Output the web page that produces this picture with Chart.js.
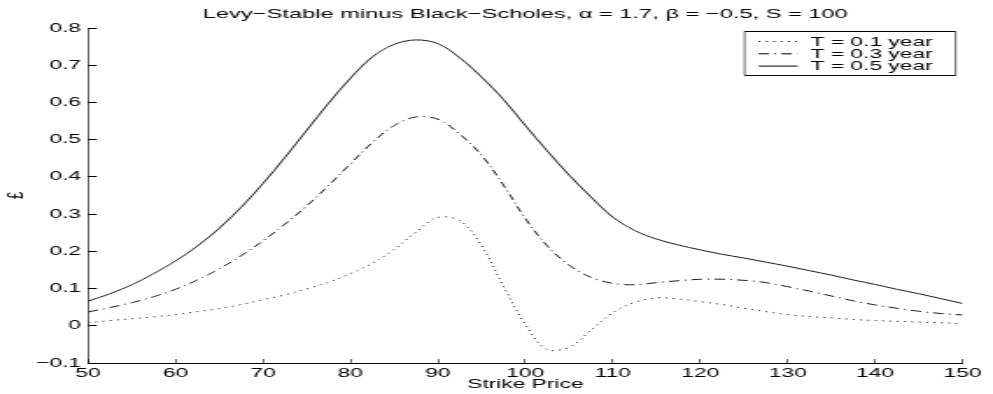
<!DOCTYPE html>
<html>
<head>
<meta charset="utf-8">
<script src="https://cdn.jsdelivr.net/npm/chart.js@4.4.1/dist/chart.umd.min.js"></script>
<style>
  html, body { margin: 0; padding: 0; background: #fff; }
</style>
</head>
<body>
<!-- drawn narrow and stretched sideways, like the original export -->
<canvas id="chart" width="567" height="394" style="display:block;width:993px;height:394px"></canvas>
<script>
const chartTitle = 'Levy\u2212Stable minus Black\u2212Scholes, \u03b1 = 1.7, \u03b2 = \u22120.5, S = 100';
const seriesLabels = ['T = 0.1 year', 'T = 0.3 year', 'T = 0.5 year'];

const strikes = [50, 52.5, 55, 57.5, 60, 62.5, 65, 67.5, 70, 72.5, 75, 77.5, 80, 82.5, 85, 87.5, 90, 92.5, 95, 97.5,
    100, 102.5, 105, 107.5, 110, 112.5, 115, 117.5, 120, 122.5, 125, 127.5, 130, 132.5, 135, 137.5, 140, 142.5, 145, 147.5, 150];

const diffT01 = [0.008, 0.014, 0.019, 0.024, 0.030, 0.038, 0.046, 0.057, 0.070, 0.083, 0.099, 0.117, 0.140, 0.168, 0.205, 0.252, 0.291, 0.283, 0.215, 0.106,
    0.004, -0.064, -0.058, -0.012, 0.035, 0.063, 0.075, 0.072, 0.065, 0.057, 0.047, 0.038, 0.030, 0.025, 0.021, 0.017, 0.014, 0.012, 0.010, 0.008, 0.006];

const diffT03 = [0.037, 0.049, 0.062, 0.078, 0.098, 0.123, 0.153, 0.188, 0.228, 0.273, 0.322, 0.377, 0.435, 0.492, 0.538, 0.561, 0.555, 0.515, 0.458, 0.378,
    0.288, 0.215, 0.163, 0.130, 0.114, 0.110, 0.116, 0.121, 0.125, 0.125, 0.122, 0.116, 0.105, 0.093, 0.080, 0.067, 0.056, 0.047, 0.039, 0.033, 0.029];

const diffT05 = [0.066, 0.086, 0.110, 0.140, 0.174, 0.214, 0.262, 0.318, 0.382, 0.452, 0.525, 0.598, 0.665, 0.722, 0.756, 0.768, 0.758, 0.720, 0.668, 0.608,
    0.538, 0.470, 0.405, 0.346, 0.292, 0.256, 0.233, 0.217, 0.204, 0.192, 0.182, 0.171, 0.160, 0.148, 0.136, 0.123, 0.111, 0.098, 0.086, 0.073, 0.060];

const fontFamily = '"Liberation Sans", Arial, Helvetica, sans-serif';
Chart.defaults.font.family = fontFamily;
Chart.defaults.font.size = 13;
Chart.defaults.color = '#000';

function toPoints(values) {
    return strikes.map((k, i) => ({ x: k, y: values[i] }));
}

function formatTick(value) {
    if (Math.abs(value) < 1e-9) return '0';
    return (value < 0 ? '\u2212' : '') + Math.abs(value).toFixed(1);
}

// matlab style legend: boxed, top right, line sample then text
const boxedLegend = {
    id: 'boxedLegend',
    afterDraw(chart) {
        const ctx = chart.ctx;
        const area = chart.chartArea;
        const right = area.right - 4;
        const left = right - 120.5;
        const top = Math.round(area.top + 3) + 0.5;
        const bottom = top + 44;
        ctx.save();
        ctx.fillStyle = '#fff';
        ctx.fillRect(left, top, right - left, bottom - top);
        ctx.strokeStyle = '#000';
        // the canvas is stretched sideways, so vertical edges get a thinner pen
        ctx.lineWidth = 1;
        ctx.beginPath();
        ctx.moveTo(left, top); ctx.lineTo(right, top);
        ctx.moveTo(left, bottom); ctx.lineTo(right, bottom);
        ctx.stroke();
        ctx.lineWidth = 0.6;
        ctx.beginPath();
        ctx.moveTo(left, top); ctx.lineTo(left, bottom);
        ctx.moveTo(right, top); ctx.lineTo(right, bottom);
        ctx.stroke();
        chart.data.datasets.forEach((ds, i) => {
            const y = top + 10 + i * 12.3;
            ctx.setLineDash(ds.borderDash || []);
            ctx.lineWidth = 1;
            ctx.beginPath();
            ctx.moveTo(left + 8, y);
            ctx.lineTo(left + 30.3, y);
            ctx.stroke();
            ctx.setLineDash([]);
            ctx.fillStyle = '#000';
            ctx.font = '13px ' + fontFamily;
            ctx.textBaseline = 'middle';
            ctx.textAlign = 'left';
            ctx.fillText(ds.label, left + 37.7, y + 0.5);
        });
        ctx.restore();
    }
};

new Chart(document.getElementById('chart'), {
    type: 'line',
    data: {
        datasets: [{
            label: seriesLabels[0],
            data: toPoints(diffT01),
            borderColor: '#000',
            borderWidth: 0.9,
            borderDash: [1, 3.2],
            pointRadius: 0,
            tension: 0.35
        }, {
            label: seriesLabels[1],
            data: toPoints(diffT03),
            borderColor: '#000',
            borderWidth: 0.9,
            borderDash: [6, 3, 1, 3],
            pointRadius: 0,
            tension: 0.35
        }, {
            label: seriesLabels[2],
            data: toPoints(diffT05),
            borderColor: '#000',
            borderWidth: 0.9,
            pointRadius: 0,
            tension: 0.35
        }]
    },
    options: {
        responsive: false,
        devicePixelRatio: 1,
        animation: false,
        layout: { padding: { top: 0, left: 0, right: 13.1, bottom: 0 } },
        plugins: {
            legend: { display: false },
            tooltip: { enabled: false },
            title: {
                display: true,
                text: chartTitle,
                fullSize: false,
                color: '#000',
                font: { size: 13.5, weight: 'normal' },
                padding: { top: 6, bottom: 5.8 }
            }
        },
        scales: {
            x: {
                type: 'linear',
                min: 50,
                max: 150,
                afterFit: (scale) => { scale.height = 31; },
                ticks: { stepSize: 10, padding: 6.5, color: '#000', font: { size: 13 } },
                grid: { drawOnChartArea: false, tickLength: -4, color: '#000', lineWidth: 0.6 },
                border: { display: true, color: '#000', width: 1 },
                title: { display: true, text: 'Strike Price', color: '#000', font: { size: 13 }, padding: { top: 0, bottom: 2 } }
            },
            y: {
                min: -0.1,
                max: 0.8,
                afterFit: (scale) => { scale.width = 50.25; },
                ticks: { stepSize: 0.1, padding: 9, color: '#000', font: { size: 13 }, callback: formatTick },
                grid: { drawOnChartArea: false, tickLength: -5, color: '#000' },
                border: { display: true, color: '#000', width: 0.6 },
                title: { display: true, text: '\u00a3', color: '#000', font: { size: 13 }, padding: { top: 2, bottom: 0 } }
            }
        }
    },
    plugins: [boxedLegend]
});
</script>
</body>
</html>
